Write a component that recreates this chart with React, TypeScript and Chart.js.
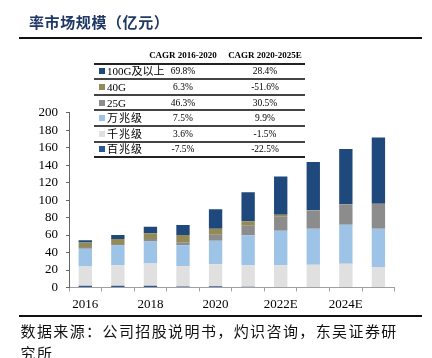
import React, { useEffect, useRef } from "react";
import { Chart, registerables } from "chart.js";

Chart.register(...registerables);

// ---- data ----
const years = ["2016", "2017", "2018", "2019", "2020", "2021", "2022E", "2023E", "2024E", "2025E"];
const yTicks = [0, 20, 40, 60, 80, 100, 120, 140, 160, 180, 200];

const baiZhao = [1.9, 1.9, 1.9, 1.1, 1.4, 0.8, 0.6, 0.5, 0.4, 0.3];
const qianZhao = [22.1, 23.6, 25.5, 23.6, 25.1, 24.8, 24.8, 25.5, 26.7, 23.2];
const wanZhao = [20.4, 22.5, 25.1, 23.6, 27.0, 34.3, 39.6, 41.1, 44.6, 43.8];
const g25 = [1.9, 1.9, 3.0, 3.4, 6.9, 10.7, 16.0, 21.0, 23.6, 28.2];
const g40 = [5.2, 5.7, 6.5, 8.4, 6.9, 5.3, 2.3, 0.4, 0.3, 0.2];
const g100 = [2.7, 4.6, 7.6, 11.4, 22.1, 33.1, 43.8, 55.2, 62.9, 76.0];

// table (top to bottom)
const tableNames = ["100G及以上", "40G", "25G", "万兆级", "千兆级", "百兆级"];
const cagr2016_2020 = ["69.8%", "6.3%", "46.3%", "7.5%", "3.6%", "-7.5%"];
const cagr2020_2025 = ["28.4%", "-51.6%", "30.5%", "9.9%", "-1.5%", "-22.5%"];
const tableHeaders = ["CAGR 2016-2020", "CAGR 2020-2025E"];

const titleText = "率市场规模（亿元）";
const sourceText = "数据来源：公司招股说明书，灼识咨询，东吴证券研究所";

// ---- styles ----
const stackNames = ["百兆级", "千兆级", "万兆级", "25G", "40G", "100G及以上"];
const stackColors = ["#2B5797", "#E0E0E0", "#9DC3E6", "#8C8C8C", "#948A54", "#1F497D"];
const tableColors = ["#1F497D", "#948A54", "#8C8C8C", "#9DC3E6", "#E0E0E0", "#2B5797"];

const SERIF = '"Liberation Serif", "Times New Roman", "Noto Sans CJK SC", serif';
const CJK = '"Noto Sans CJK SC", "Noto Sans", sans-serif';

export default function App() {
  const canvasRef = useRef<HTMLCanvasElement | null>(null);

  useEffect(() => {
    if (!canvasRef.current) return;
    const stacks = [baiZhao, qianZhao, wanZhao, g25, g40, g100];
    const chart = new Chart(canvasRef.current, {
      type: "bar",
      data: {
        labels: years,
        datasets: stacks.map((d, i) => ({
          label: stackNames[i],
          data: d,
          backgroundColor: stackColors[i],
          borderWidth: 0,
          barPercentage: 0.41,
          categoryPercentage: 1,
        })),
      },
      options: {
        responsive: false,
        animation: false,
        devicePixelRatio: 1,
        layout: { padding: { left: 0, top: 112.7, right: 37.3, bottom: 40.5 } },
        plugins: { legend: { display: false }, tooltip: { enabled: false }, title: { display: false } },
        scales: {
          x: {
            stacked: true,
            offset: true,
            grid: { offset: true, drawOnChartArea: false, drawTicks: true, tickLength: 4, color: "#A0A0A0" },
            border: { display: true, color: "#A0A0A0", width: 1 },
            ticks: {
              autoSkip: false,
              maxRotation: 0,
              padding: 5,
              color: "#000",
              font: { family: SERIF, size: 13 },
              callback: (_v: any, idx: number) => (idx % 2 === 0 ? years[idx] : ""),
            },
            afterFit: (s: any) => {
              s.height = 30;
            },
          },
          y: {
            stacked: true,
            min: yTicks[0],
            max: yTicks[yTicks.length - 1],
            afterBuildTicks: (s: any) => {
              s.ticks = yTicks.map((v) => ({ value: v }));
            },
            grid: { drawOnChartArea: false, drawTicks: true, tickLength: 3, color: "#666" },
            border: { display: true, color: "#666", width: 1 },
            ticks: {
              autoSkip: false,
              padding: 8,
              color: "#000",
              font: { family: SERIF, size: 13 },
            },
            afterFit: (s: any) => {
              s.width = 69;
            },
          },
        },
      },
    });
    return () => chart.destroy();
  }, []);

  const rowTop = 63.5;
  const rowH = 15.6;

  return (
    <div style={{ position: "absolute", left: 0, top: 0, width: 432, height: 358, overflow: "hidden", background: "#fff" }}>
      <canvas ref={canvasRef} width={432} height={358} style={{ position: "absolute", left: 0, top: 0, width: 432, height: 358 }} />

      <div
        style={{
          position: "absolute",
          left: 29,
          top: 11.5,
          fontFamily: CJK,
          fontSize: 15,
          lineHeight: "20px",
          letterSpacing: 0.6,
          fontWeight: 700,
          color: "#1F3864",
          whiteSpace: "nowrap",
        }}
      >
        {titleText}
      </div>
      <div style={{ position: "absolute", left: 19, top: 37, width: 403, height: 2, background: "#111" }} />

      {tableHeaders.map((h, i) => (
        <div
          key={h}
          style={{
            position: "absolute",
            left: (i === 0 ? 183 : 265) - 45,
            width: 90,
            top: 49,
            lineHeight: "12px",
            textAlign: "center",
            fontFamily: SERIF,
            fontWeight: 700,
            fontSize: 9,
            color: "#000",
            whiteSpace: "nowrap",
          }}
        >
          {h}
        </div>
      ))}

      <div style={{ position: "absolute", left: 94, top: rowTop - 1, width: 211, height: 2, background: "#222" }} />
      {tableNames.map((name, i) => {
        const top = rowTop + i * rowH;
        return (
          <React.Fragment key={name}>
            <div style={{ position: "absolute", left: 99, top: top + rowH / 2 - 3, width: 6, height: 6, background: tableColors[i] }} />
            <div
              style={{
                position: "absolute",
                left: 107,
                top: top + rowH / 2 - 7,
                lineHeight: "14px",
                fontFamily: SERIF,
                fontSize: 11,
                letterSpacing: name.includes("G") ? 0 : 1,
                color: "#000",
                whiteSpace: "nowrap",
              }}
            >
              {name}
            </div>
            <div
              style={{
                position: "absolute",
                left: 183 - 25,
                width: 50,
                top: top + rowH / 2 - 6,
                lineHeight: "12px",
                textAlign: "center",
                fontFamily: SERIF,
                fontSize: 9.5,
                color: "#000",
              }}
            >
              {cagr2016_2020[i]}
            </div>
            <div
              style={{
                position: "absolute",
                left: 265 - 25,
                width: 50,
                top: top + rowH / 2 - 6,
                lineHeight: "12px",
                textAlign: "center",
                fontFamily: SERIF,
                fontSize: 9.5,
                color: "#000",
              }}
            >
              {cagr2020_2025[i]}
            </div>
            <div
              style={{
                position: "absolute",
                left: 94,
                top: top + rowH - 1,
                width: 211,
                height: 2,
                background: i === tableNames.length - 1 ? "#222" : "#444",
              }}
            />
          </React.Fragment>
        );
      })}

      <div style={{ position: "absolute", left: 19, top: 315, width: 403, height: 2, background: "#111" }} />
      <div
        style={{
          position: "absolute",
          left: 20.5,
          top: 320,
          width: 385,
          fontFamily: CJK,
          fontSize: 15,
          lineHeight: "21.7px",
          letterSpacing: 1.4,
          color: "#111",
        }}
      >
        {sourceText}
      </div>
    </div>
  );
}
